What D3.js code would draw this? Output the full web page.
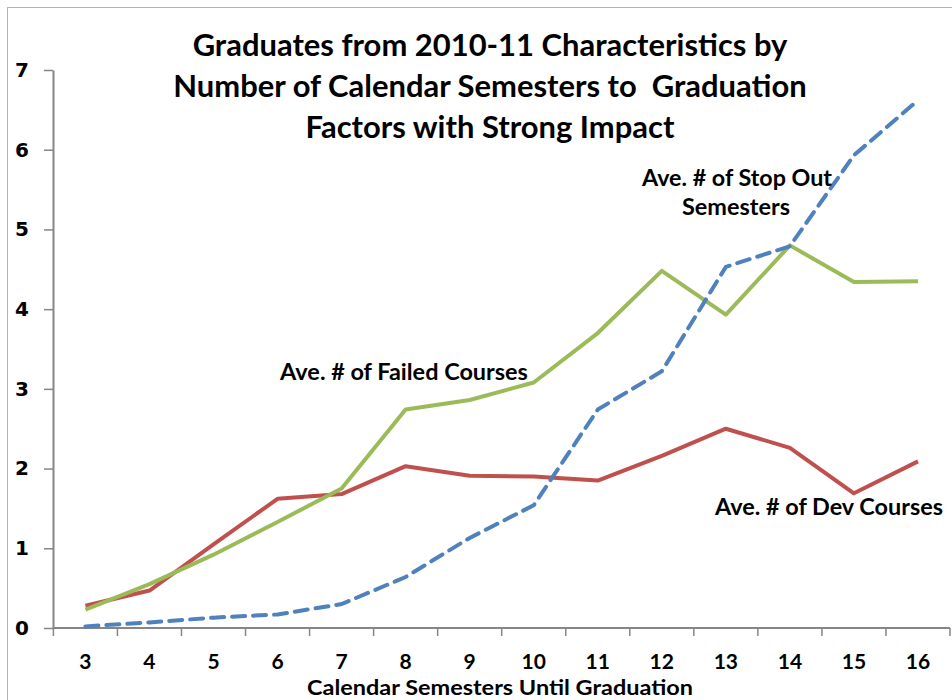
<!DOCTYPE html>
<html>
<head>
<meta charset="utf-8">
<script src="https://cdn.jsdelivr.net/npm/d3@7"></script>
<style>
	html, body { margin: 0; padding: 0; background: #ffffff; }
	svg { display: block; font-family: Lato, "Open Sans", sans-serif; }
</style>
</head>
<body>
<div id="chart"></div>
<script>
// Data
const semesters = [3, 4, 5, 6, 7, 8, 9, 10, 11, 12, 13, 14, 15, 16];
const devCourses = [0.28, 0.47, 1.05, 1.62, 1.68, 2.03, 1.91, 1.90, 1.85, 2.16, 2.50, 2.26, 1.69, 2.09];
const failedCourses = [0.23, 0.55, 0.92, 1.33, 1.75, 2.74, 2.86, 3.08, 3.70, 4.48, 3.93, 4.80, 4.34, 4.35];
const stopOutSemesters = [0.02, 0.07, 0.13, 0.17, 0.30, 0.64, 1.13, 1.54, 2.74, 3.22, 4.53, 4.79, 5.93, 6.62];
const yTicks = [0, 1, 2, 3, 4, 5, 6, 7];
const titleLines = [
	"Graduates from 2010-11 Characteristics by",
	"Number of Calendar Semesters to \u00a0Graduation",
	"Factors with Strong Impact"
];

const width = 952, height = 700;

// shrink/grow font so a text fits a measured width
function fitWidth(sel, target) {
	const node = sel.node();
	const size = parseFloat(sel.attr("font-size"));
	const len = node.getComputedTextLength();
	if (len > 0) sel.attr("font-size", (size * target / len).toFixed(2));
	return sel;
}

function drawChart() {
	const svg = d3.select("#chart")
		.append("svg")
		.attr("width", width)
		.attr("height", height);

	// chart border (cut by the page edges)
	svg.append("rect")
		.attr("x", 7.5).attr("y", 7.5)
		.attr("width", 960).attr("height", 720)
		.attr("fill", "none")
		.attr("stroke", "#b3b3b3")
		.attr("stroke-width", 1);

	const x = d3.scaleBand()
		.domain(semesters)
		.range([53.4, 950]);

	const y = d3.scaleLinear()
		.domain([0, 7])
		.range([628, 70]);

	const cx = (d) => x(d) + x.bandwidth() / 2;

	// y axis
	const yAxis = svg.append("g")
		.attr("transform", "translate(53,0)")
		.call(d3.axisLeft(y).tickValues(yTicks).tickFormat(d3.format("d"))
			.tickSize(9).tickSizeOuter(0).tickPadding(14));
	yAxis.select(".domain").attr("stroke", "#868686").attr("stroke-width", 2);
	yAxis.selectAll(".tick line").attr("stroke", "#868686").attr("stroke-width", 1.5);
	yAxis.selectAll("text")
		.attr("fill", "#000")
		.attr("font-size", 20)
		.attr("font-weight", "bold")
		.attr("font-family", "'DejaVu Sans', sans-serif")
		.attr("text-anchor", "middle")
		.attr("x", -31);

	// x axis (ticks on category boundaries)
	const xAxis = svg.append("g")
		.attr("transform", "translate(0,628)");
	xAxis.append("line")
		.attr("x1", 53).attr("x2", 950)
		.attr("stroke", "#868686").attr("stroke-width", 2);
	xAxis.selectAll(".tk")
		.data(semesters.concat(["end"]))
		.enter().append("line")
		.attr("x1", (d) => d === "end" ? x.range()[1] : x(d))
		.attr("x2", (d) => d === "end" ? x.range()[1] : x(d))
		.attr("y1", 0).attr("y2", 8)
		.attr("stroke", "#868686").attr("stroke-width", 1.5);
	xAxis.selectAll(".lbl")
		.data(semesters)
		.enter().append("text")
		.attr("x", cx)
		.attr("y", 34)
		.attr("dy", "0.35em")
		.attr("text-anchor", "middle")
		.attr("font-size", 21)
		.attr("font-weight", "bold")
		.text((d) => d);

	// lines
	const line = (vals) => d3.line()
		.x((d, i) => cx(semesters[i]))
		.y((d) => y(d))(vals);

	svg.append("path")
		.attr("d", line(devCourses))
		.attr("fill", "none")
		.attr("stroke", "#C0504D")
		.attr("stroke-width", 4)
		.attr("stroke-linejoin", "round");

	svg.append("path")
		.attr("d", line(failedCourses))
		.attr("fill", "none")
		.attr("stroke", "#9BBB59")
		.attr("stroke-width", 4)
		.attr("stroke-linejoin", "round");

	svg.append("path")
		.attr("d", line(stopOutSemesters))
		.attr("fill", "none")
		.attr("stroke", "#4F81BD")
		.attr("stroke-width", 4)
		.attr("stroke-dasharray", "13,8")
		.attr("stroke-linecap", "round");

	// title
	const title = svg.append("g")
		.attr("font-weight", "bold")
		.attr("fill", "#000");
	const t0 = title.append("text")
		.attr("x", 490).attr("y", 45).attr("dy", "0.35em")
		.attr("text-anchor", "middle").attr("font-size", 28)
		.text(titleLines[0]);
	fitWidth(t0, 595);
	const ts = t0.attr("font-size");
	titleLines.slice(1).forEach((txt, i) => {
		title.append("text")
			.attr("x", 490).attr("y", 86 + i * 41).attr("dy", "0.35em")
			.attr("text-anchor", "middle").attr("font-size", ts)
			.text(txt);
	});

	// series labels
	const labels = [
		{ text: "Ave. # of Failed Courses", x: 404, y: 372, w: 248 },
		{ text: "Ave. # of Stop Out", x: 737, y: 178, w: 190 },
		{ text: "Semesters", x: 736, y: 207, w: 108 },
		{ text: "Ave. # of Dev Courses", x: 829, y: 507, w: 228 }
	];
	labels.forEach((l) => {
		const t = svg.append("text")
			.attr("x", l.x).attr("y", l.y).attr("dy", "0.35em")
			.attr("text-anchor", "middle")
			.attr("font-size", 20)
			.attr("font-weight", "bold")
			.text(l.text);
		fitWidth(t, l.w);
	});

	// x axis title
	svg.append("text")
		.attr("x", 500).attr("y", 688).attr("dy", "0.35em")
		.attr("text-anchor", "middle")
		.attr("font-size", 20)
		.attr("font-weight", "bold")
		.attr("textLength", 386)
		.attr("lengthAdjust", "spacingAndGlyphs")
		.text("Calendar Semesters Until Graduation");
}

document.addEventListener("DOMContentLoaded", drawChart);
</script>
</body>
</html>
